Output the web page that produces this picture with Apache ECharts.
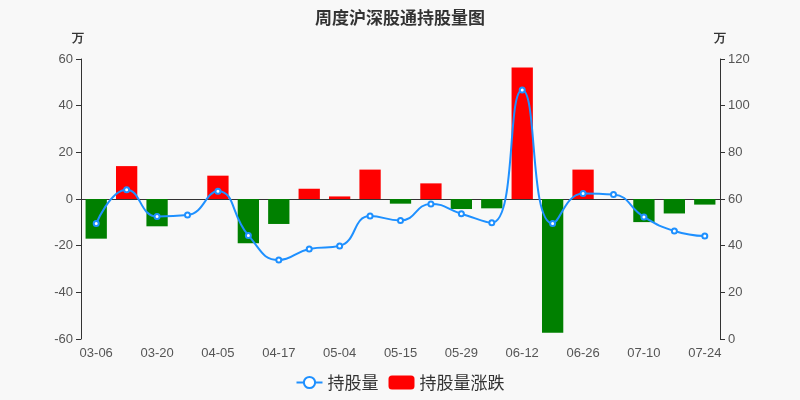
<!DOCTYPE html>
<html>
<head>
<meta charset="utf-8">
<script src="https://cdn.jsdelivr.net/npm/echarts@6/dist/echarts.min.js"></script>
<style>html,body{margin:0;padding:0;background:#f8f8f8;}#main{width:800px;height:400px;}</style>
</head>
<body>
<div id="main"></div>
<script>
var categories = ['03-06','03-13','03-20','03-27','04-05','04-10','04-17','04-24','05-04','05-08','05-15','05-22','05-29','06-05','06-12','06-19','06-26','07-03','07-10','07-17','07-24'];
var holdings = [49.5,64.0,52.5,53.1,63.3,44.4,33.9,38.6,39.9,52.7,50.8,57.9,53.7,49.8,106.7,49.5,62.4,61.9,52.3,46.3,44.1];
var changes = [-17.0,14.1,-11.7,0,10.0,-19.0,-10.7,4.4,1.1,12.6,-2.0,6.7,-4.3,-4.0,56.4,-57.3,12.6,0,-9.9,-6.2,-2.4];
var leftTicks = {min:-60,max:60,interval:20};
var rightTicks = {min:0,max:120,interval:20};

var chart = echarts.init(document.getElementById('main'));
chart.setOption({
  backgroundColor:'#f8f8f8',
  title:{text:'周度沪深股通持股量图',left:'center',top:4,textStyle:{fontSize:17,fontWeight:'bold',color:'#333',fontFamily:'Noto Sans CJK SC'}},
  legend:{bottom:4,itemGap:10,itemWidth:26,itemHeight:14,textStyle:{fontSize:17,color:'#333',fontFamily:'Noto Sans CJK SC'},
    data:[{name:'持股量'},{name:'持股量涨跌',itemStyle:{color:'#ff0000'}}]},
  grid:{left:81,right:80,top:59,bottom:61,containLabel:false,outerBoundsMode:'none'},
  xAxis:[
    {type:'category',data:categories,position:'bottom',
     axisLine:{show:false,onZero:false},axisTick:{show:false},
     axisLabel:{interval:1,margin:8,color:'#555',fontSize:13}},
    {type:'category',data:categories,position:'bottom',
     axisLine:{onZero:true,lineStyle:{color:'#333'}},
     axisTick:{interval:1,lineStyle:{color:'#333'}},
     axisLabel:{show:false,interval:1}}
  ],
  yAxis:[
    {type:'value',name:'万',min:leftTicks.min,max:leftTicks.max,interval:leftTicks.interval,
     nameTextStyle:{fontWeight:'bold',color:'#333',fontSize:12,padding:[0,6,0,0]},nameGap:14,
     axisLine:{show:true,lineStyle:{color:'#333'}},axisTick:{show:true},splitLine:{show:false},
     axisLabel:{color:'#555',fontSize:13}},
    {type:'value',name:'万',min:rightTicks.min,max:rightTicks.max,interval:rightTicks.interval,
     nameTextStyle:{fontWeight:'bold',color:'#333',fontSize:12},nameGap:14,
     axisLine:{show:true,lineStyle:{color:'#333'}},axisTick:{show:true},splitLine:{show:false},
     axisLabel:{color:'#555',fontSize:13}}
  ],
  series:[
    {name:'持股量',type:'line',yAxisIndex:1,xAxisIndex:0,smooth:true,data:holdings,
     symbol:'emptyCircle',symbolSize:5,itemStyle:{color:'#1e90ff'},lineStyle:{color:'#1e90ff',width:2},z:3},
    {name:'持股量涨跌',type:'bar',yAxisIndex:0,xAxisIndex:0,data:changes,barWidth:'70%',
     itemStyle:{color:function(p){return p.value>=0?'#ff0000':'#008000';}},z:2}
  ]
});
</script>
</body>
</html>
